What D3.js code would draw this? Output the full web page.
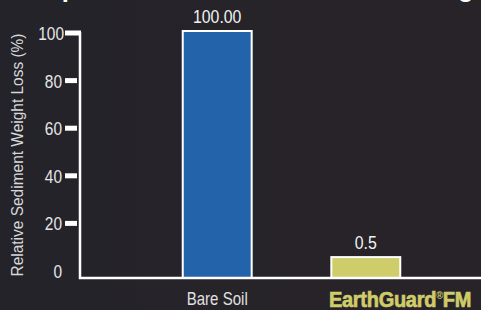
<!DOCTYPE html>
<html>
<head>
<meta charset="utf-8">
<script src="https://cdn.jsdelivr.net/npm/d3@7"></script>
<style>
  html, body { margin: 0; padding: 0; background: #25242a; }
  svg { display: block; }
</style>
</head>
<body>
<div class="chart"></div>
<script>
// chart data
let categories = ["Bare Soil", "EarthGuard FM"];
let barValues = [100, 5];            // drawn height as seen in the picture
let valueLabels = ["100.00", "0.5"]; // printed values
let yTicks = [0, 20, 40, 60, 80, 100];

let svgWidth = 481;
let svgHeight = 310;
let font = "'Liberation Sans', Arial, sans-serif";

// condensed look: horizontally squeezed text placed at (px, py)
function place(px, py, sx) {
  return `translate(${px},${py}) scale(${sx},1)`;
}

let svg = d3.select(".chart").append("svg")
  .attr("width", svgWidth)
  .attr("height", svgHeight);

// background with a faint warm tint towards the right
let grad = svg.append("defs").append("linearGradient")
  .attr("id", "bg").attr("x1", 0).attr("x2", 1).attr("y1", 0).attr("y2", 0);
grad.append("stop").attr("offset", "0%").attr("stop-color", "#24232a");
grad.append("stop").attr("offset", "100%").attr("stop-color", "#282328");
svg.append("rect")
  .attr("width", svgWidth).attr("height", svgHeight)
  .attr("fill", "url(#bg)");

// title, mostly cut off by the top edge as in the original
svg.append("text")
  .attr("x", 5)
  .attr("y", -3)
  .attr("fill", "#fff")
  .style("font-family", font)
  .style("font-weight", "bold")
  .style("font-size", "25.5px")
  .text("Comparative Sediment Loss in Testing");

let baseline = 278;
let axisX = 80;

let y = d3.scaleLinear().domain([0, 100]).range([271, 33]);
let x = d3.scaleBand().domain(categories).range([104, 479])
  .paddingInner(0.536).paddingOuter(0.53);

let colors = ["#2363a9", "#cfcc6a"];

// bars
svg.selectAll("rect.bar")
  .data(categories)
  .enter()
  .append("rect")
  .attr("class", "bar")
  .attr("x", d => x(d))
  .attr("y", (d, i) => y(barValues[i]) - 2)
  .attr("width", x.bandwidth())
  .attr("height", (d, i) => baseline - y(barValues[i]) + 2)
  .attr("fill", (d, i) => colors[i])
  .attr("stroke", "#fff")
  .attr("stroke-width", 2);

// value labels
svg.selectAll("text.val")
  .data(categories)
  .enter()
  .append("text")
  .attr("class", "val")
  .attr("transform", (d, i) => place(x(d) + x.bandwidth() / 2, y(barValues[i]) - 10, 0.88))
  .attr("text-anchor", "middle")
  .attr("fill", "#f2f2f2")
  .style("font-family", font)
  .style("font-size", "18px")
  .text((d, i) => valueLabels[i]);

// axis lines
svg.append("path")
  .attr("d", `M${axisX},${y(100) - 1}V${baseline}H${svgWidth}`)
  .attr("fill", "none")
  .attr("stroke", "#fff")
  .attr("stroke-width", 2.5);

// y ticks (thick short bars) and labels
svg.selectAll("rect.tick")
  .data(yTicks.filter(t => t > 0))
  .enter()
  .append("rect")
  .attr("class", "tick")
  .attr("x", 65)
  .attr("y", d => y(d) - 2.5)
  .attr("width", d => d === 100 ? 16 : 12)
  .attr("height", 5)
  .attr("fill", "#fff");

svg.selectAll("text.ylab")
  .data(yTicks)
  .enter()
  .append("text")
  .attr("class", "ylab")
  .attr("transform", d => place(d === 100 ? 64 : 62, d === 0 ? baseline : y(d) + 7, 0.86))
  .attr("text-anchor", "end")
  .attr("fill", "#e6e6e6")
  .style("font-family", font)
  .style("font-size", "18px")
  .text(d => d);

// y axis title
svg.append("text")
  .attr("transform", `translate(23, ${(33 + 277) / 2}) rotate(-90) scale(0.91,1)`)
  .attr("text-anchor", "middle")
  .attr("fill", "#d8d8d8")
  .style("font-family", font)
  .style("font-size", "17px")
  .text("Relative Sediment Weight Loss (%)");

// category labels
svg.append("text")
  .attr("transform", place(x(categories[0]) + x.bandwidth() / 2, 305, 0.86))
  .attr("text-anchor", "middle")
  .attr("fill", "#e0e0e0")
  .style("font-family", font)
  .style("font-size", "17.5px")
  .text(categories[0]);

let eg = svg.append("text")
  .attr("transform", place(400, 306.5, 0.93))
  .attr("text-anchor", "middle")
  .attr("fill", "#cfcc6a")
  .attr("stroke", "#cfcc6a")
  .attr("stroke-width", 0.7)
  .style("font-family", font)
  .style("font-weight", "bold")
  .style("font-size", "21.5px")
  .style("letter-spacing", "-0.3px");
eg.append("tspan").text("EarthGuard");
eg.append("tspan").attr("dy", -8).attr("stroke-width", 0).style("font-size", "10px").text("®");
eg.append("tspan").attr("dy", 8).text("FM");
</script>
</body>
</html>
